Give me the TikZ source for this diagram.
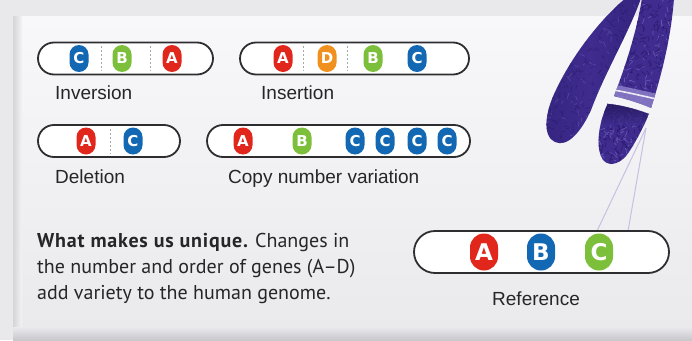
\documentclass[tikz,border=0pt]{standalone}
\usepackage{fontspec}
\setmainfont{Liberation Sans}
\newfontfamily\capfont{PT Sans}
\newfontfamily\capbold{PT Sans Bold}[LetterSpace=4]
\newfontfamily\genefont{DejaVu Sans}
\usetikzlibrary{calc}

\definecolor{gred}{HTML}{E1261C}
\definecolor{ggreen}{HTML}{7CBF3B}
\definecolor{gblue}{HTML}{1268B3}
\definecolor{gorange}{HTML}{F0901F}
\definecolor{pillline}{HTML}{2E2E30}
\definecolor{labtext}{HTML}{262628}
\definecolor{chromo}{HTML}{3F2C8E}
\definecolor{chromodark}{HTML}{241563}
\definecolor{chromolight}{HTML}{7563C2}
\definecolor{tether}{HTML}{C8BFE2}

\tikzset{
  pill/.style={draw=pillline, line width=1.8pt, fill=white, inner sep=0pt,
    minimum height=32pt, rounded corners=16pt},
  bigpill/.style={pill, minimum height=42pt, rounded corners=21pt},
  gene/.style={fill=#1, text=white, inner sep=0pt, rounded corners=9.5pt,
    minimum width=19pt, minimum height=27pt,
    font=\genefont\bfseries\fontsize{15}{15}\selectfont},
  biggene/.style={gene=#1, rounded corners=14pt, minimum width=28pt,
    minimum height=37pt, font=\genefont\bfseries\fontsize{23}{23}\selectfont},
  sep/.style={draw=gray!70, line width=0.9pt, dash pattern=on 2pt off 2pt},
  lab/.style={anchor=base west, inner sep=0pt, text=labtext,
    font=\fontsize{19}{19}\selectfont},
  tetherline/.style={draw=tether, line width=1pt},
  fibre/.style={line width=0.7pt, line cap=round},
}

% fuzzy chromatin texture inside the current clip region
\newcommand\chromatin[4]{% x0, y0, width, height
  \fill[chromo] (#1,#2) rectangle ++(#3,#4);
  \foreach \k in {1,...,420}{
    \pgfmathsetmacro\fx{#1+#3*rnd}
    \pgfmathsetmacro\fy{#2+#4*rnd}
    \pgfmathsetmacro\fa{360*rnd}
    \pgfmathsetmacro\fl{2+4*rnd}
    \pgfmathtruncatemacro\fc{mod(\k,3)}
    \ifnum\fc=0
      \draw[fibre, chromolight, opacity=0.7] (\fx,\fy) -- ++(\fa:\fl);
    \else
      \draw[fibre, chromodark, opacity=0.6] (\fx,\fy) -- ++(\fa:\fl);
    \fi
  }
}

\begin{document}
\begin{tikzpicture}[x=1pt,y=-1pt]
\useasboundingbox (0,0) rectangle (692,340);
\pgfmathsetseed{4711}

% backdrop and card
\fill[color={rgb,255:red,233;green,233;blue,236}] (0,0) rectangle (692,340);
\shade[top color={rgb,255:red,248;green,248;blue,250},
       bottom color={rgb,255:red,234;green,234;blue,237}] (16,16) rectangle (692,330);
\shade[left color={rgb,255:red,212;green,212;blue,217},
       right color={rgb,255:red,244;green,244;blue,246}] (13,16) rectangle (22,330);
\shade[top color={rgb,255:red,234;green,234;blue,237},
       bottom color={rgb,255:red,200;green,200;blue,205}] (13,327) rectangle (692,340);

% chromosome: left chromatid
\begin{scope}
  \clip (626,-2) .. controls (605,15) and (575,50) .. (556,90)
        .. controls (545,112) and (542,136) .. (555,142)
        .. controls (568,148) and (582,130) .. (591,110)
        .. controls (606,70) and (628,35) .. (641,-2) -- cycle;
  \chromatin{535}{-5}{110}{152}
  \shade[left color=chromodark, right color=chromodark, middle color=chromo,
         opacity=0.35] (535,-5) rectangle (645,150);
\end{scope}

% chromosome: right chromatid, upper part
\begin{scope}
  \clip (642,-2) .. controls (637,30) and (626,65) .. (614,96)
        .. controls (626,99) and (640,103) .. (651,108)
        .. controls (660,80) and (671,40) .. (674,-2) -- cycle;
  \chromatin{605}{-5}{72}{118}
  \fill[chromolight!75!white, opacity=0.75]
        (600,82) .. controls (625,86) and (645,92) .. (680,98)
        -- (680,115) -- (600,115) -- cycle;
  \draw[white, line width=1.6pt, opacity=0.85]
        (600,88) .. controls (625,91) and (645,97) .. (680,104);
\end{scope}

% chromosome: right chromatid, lower lobe
\begin{scope}
  \clip (608,103) .. controls (600,120) and (594,146) .. (603,160)
        .. controls (610,168) and (622,163) .. (629,152)
        .. controls (638,138) and (645,124) .. (649,113)
        .. controls (636,108) and (620,104) .. (608,103) -- cycle;
  \chromatin{592}{100}{60}{70}
  \shade[top color=chromodark!70!black, bottom color=chromo, opacity=0.7]
        (590,100) rectangle (655,124);
\end{scope}
\draw[white, line width=1.4pt, opacity=0.9]
      (608,103) .. controls (620,104) and (636,108) .. (649,113);

% thin tethers from the chromosome band down to the reference
\coordinate (band) at (646,128);
\coordinate (tA) at (597,231);
\coordinate (tB) at (628,231);
\draw[tetherline] (band) -- (tA);
\draw[tetherline] (band) -- (tB);

% Inversion
\node[pill, minimum width=175pt] (inv) at (125.5,58.5) {};
\draw[sep] (101,46) -- (101,71);
\draw[sep] (150,46) -- (150,71);
\node[gene=gblue]  (invC) at (79,58.5) {C};
\node[gene=ggreen] (invB) at (122,58.5) {B};
\node[gene=gred]   (invA) at (172,58.5) {A};
\node[lab] (invlab) at (55,99) {Inversion};

% Insertion
\node[pill, minimum width=229pt] (ins) at (354.5,58.5) {};
\draw[sep] (303,46) -- (303,71);
\draw[sep] (347,46) -- (347,71);
\node[gene=gred]    (insA) at (283,58.5) {A};
\node[gene=gorange] (insD) at (327,58.5) {D};
\node[gene=ggreen]  (insB) at (373,58.5) {B};
\node[gene=gblue]   (insC) at (417,58.5) {C};
\node[lab] (inslab) at (261,99) {Insertion};

% Deletion
\node[pill, minimum width=142pt] (del) at (109,141) {};
\draw[sep] (110,129) -- (110,154);
\node[gene=gred]  (delA) at (86,141) {A};
\node[gene=gblue] (delC) at (133,141) {C};
\node[lab] (dellab) at (55,183) {Deletion};

% Copy number variation
\node[pill, minimum width=263pt] (cnv) at (338.5,141) {};
\node[gene=gred]   (cnvA)  at (243,141) {A};
\node[gene=ggreen] (cnvB)  at (302,141) {B};
\node[gene=gblue]  (cnvC1) at (355,141) {C};
\node[gene=gblue]  (cnvC2) at (385,141) {C};
\node[gene=gblue]  (cnvC3) at (417,141) {C};
\node[gene=gblue]  (cnvC4) at (447,141) {C};
\node[lab] (cnvlab) at (228,183) {Copy number variation};

% Reference
\node[bigpill, minimum width=255pt] (ref) at (541.5,252) {};
\node[biggene=gred]   (refA) at (484,252) {A};
\node[biggene=gblue]  (refB) at (541,252) {B};
\node[biggene=ggreen] (refC) at (599,252) {C};
\node[lab] (reflab) at (492,305) {Reference};

% caption (anchored on the baseline of its last line)
\node[anchor=base west, inner sep=0pt, align=left, text=labtext,
      font=\capfont\fontsize{20}{26}\selectfont] (cap) at (37,299)
  {{\capbold What makes us unique.} Changes in\\
   the number and order of genes (A–D)\\
   add variety to the human genome.};
\end{tikzpicture}
\end{document}
